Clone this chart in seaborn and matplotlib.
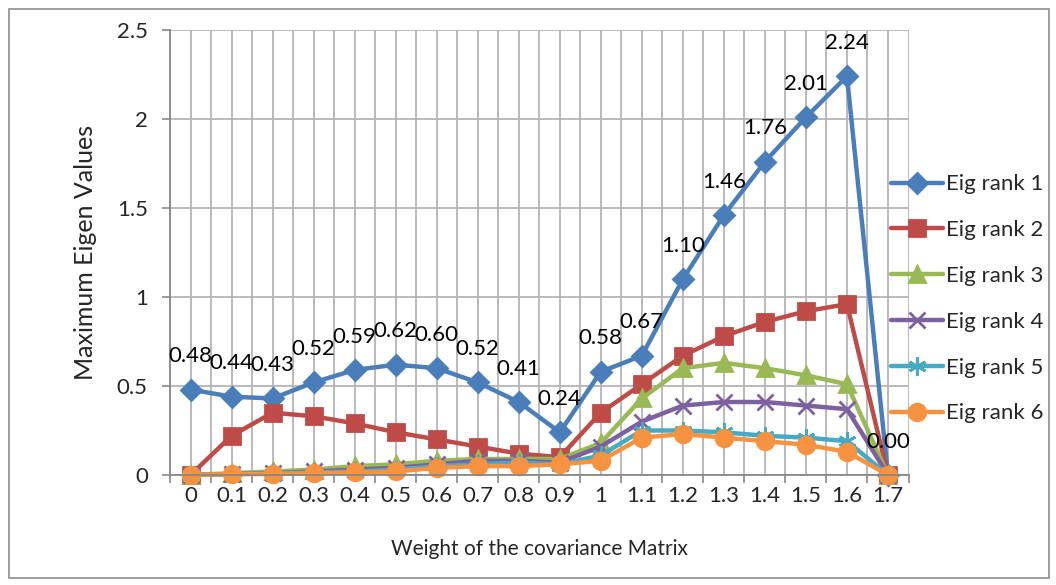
import matplotlib
matplotlib.use("Agg")
import matplotlib.pyplot as plt
import seaborn as sns
from matplotlib.patches import Rectangle
from matplotlib.ticker import FixedLocator, FuncFormatter

weights = ["0", "0.1", "0.2", "0.3", "0.4", "0.5", "0.6", "0.7", "0.8", "0.9",
           "1", "1.1", "1.2", "1.3", "1.4", "1.5", "1.6", "1.7"]

rank1 = [0.48, 0.44, 0.43, 0.52, 0.59, 0.62, 0.60, 0.52, 0.41, 0.24,
         0.58, 0.67, 1.10, 1.46, 1.76, 2.01, 2.24, 0.00]
rank2 = [0.00, 0.22, 0.35, 0.33, 0.29, 0.24, 0.20, 0.16, 0.12, 0.10,
         0.35, 0.51, 0.67, 0.78, 0.86, 0.92, 0.96, 0.00]
rank3 = [0.00, 0.01, 0.02, 0.03, 0.05, 0.06, 0.08, 0.09, 0.09, 0.09,
         0.18, 0.43, 0.60, 0.63, 0.60, 0.56, 0.51, 0.00]
rank4 = [0.00, 0.005, 0.01, 0.02, 0.03, 0.04, 0.06, 0.08, 0.08, 0.07,
         0.16, 0.30, 0.39, 0.41, 0.41, 0.39, 0.37, 0.00]
rank5 = [0.00, 0.005, 0.01, 0.015, 0.02, 0.03, 0.05, 0.06, 0.07, 0.06,
         0.11, 0.25, 0.25, 0.24, 0.22, 0.21, 0.19, 0.00]
rank6 = [0.00, 0.005, 0.005, 0.01, 0.015, 0.02, 0.04, 0.05, 0.05, 0.06,
         0.08, 0.21, 0.23, 0.21, 0.19, 0.17, 0.13, 0.00]

series_names = ["Eig rank 1", "Eig rank 2", "Eig rank 3",
                "Eig rank 4", "Eig rank 5", "Eig rank 6"]
series_vals = [rank1, rank2, rank3, rank4, rank5, rank6]
colors = ["#4A7EBB", "#BE4B48", "#98B954", "#7D60A0", "#46AAC5", "#F69240"]
markers = ["D", "s", "^", "x", (6, 2, 0), "o"]
msizes = [10, 11, 11, 11, 13, 12]

FS = 16

sns.set_style("white")
plt.rcParams["font.family"] = ["Lato", "DejaVu Sans"]

fig = plt.figure(figsize=(10.56, 5.85), dpi=100)
ax = fig.add_axes([170 / 1056, 1 - 475 / 585, 738.5 / 1056, 445 / 585])

pos = list(range(len(weights)))
for name, vals, c, m, ms in zip(series_names, series_vals, colors, markers, msizes):
    sns.lineplot(x=pos, y=vals, ax=ax, color=c, marker=m, markersize=ms,
                 markeredgecolor=c, markerfacecolor=c, markeredgewidth=2,
                 linewidth=3.2, label=name, clip_on=False)

# data labels for the first series
for x, v in zip(pos, rank1):
    ax.annotate(f"{v:.2f}", (x, v), xytext=(0, 24), textcoords="offset points",
                ha="center", va="center", fontsize=FS, color="black", zorder=10)

ax.set_xlim(-0.5, len(weights) - 0.5)
ax.set_ylim(0, 2.5)

ax.xaxis.set_major_locator(FixedLocator(pos))
ax.set_xticklabels(weights)
ax.xaxis.set_minor_locator(FixedLocator([p - 0.5 for p in pos] + [pos[-1] + 0.5]))
ax.set_yticks([0, 0.5, 1, 1.5, 2, 2.5])
ax.yaxis.set_major_formatter(FuncFormatter(lambda v, _: f"{v:g}"))

ax.tick_params(axis="x", which="major", length=0, pad=8, labelsize=FS)
ax.tick_params(axis="x", which="minor", length=6, width=1.2, color="#888888",
               direction="out", bottom=True)
ax.tick_params(axis="y", which="major", length=6, width=1.2, color="#888888",
               direction="out", left=True, pad=10, labelsize=FS)

ax.grid(True, which="both", axis="x", color="#B4B4B4", linewidth=1.3)
ax.grid(True, which="major", axis="y", color="#B4B4B4", linewidth=1.3)
ax.set_axisbelow(True)

for side in ["top", "right"]:
    ax.spines[side].set_visible(False)
for side in ["left", "bottom"]:
    ax.spines[side].set_color("#888888")
    ax.spines[side].set_linewidth(1.3)

ax.set_xlabel("Weight of the covariance Matrix", fontsize=15, labelpad=24)
ax.set_ylabel("Maximum Eigen Values", fontsize=18, labelpad=14)

handles, labels = ax.get_legend_handles_labels()
ax.legend_.remove()
fig.legend(handles, labels, loc="center left", bbox_to_anchor=(0.833, 0.489),
           frameon=False, fontsize=FS, handlelength=2.35, handletextpad=0.15,
           labelspacing=1.16, borderpad=0, numpoints=1)

fig.patches.append(Rectangle((9 / 1056, 7 / 585), 1040 / 1056, 569 / 585,
                             transform=fig.transFigure, fill=False,
                             edgecolor="#8C8C8C", linewidth=1.2))

fig.savefig("out.png", dpi=100)
